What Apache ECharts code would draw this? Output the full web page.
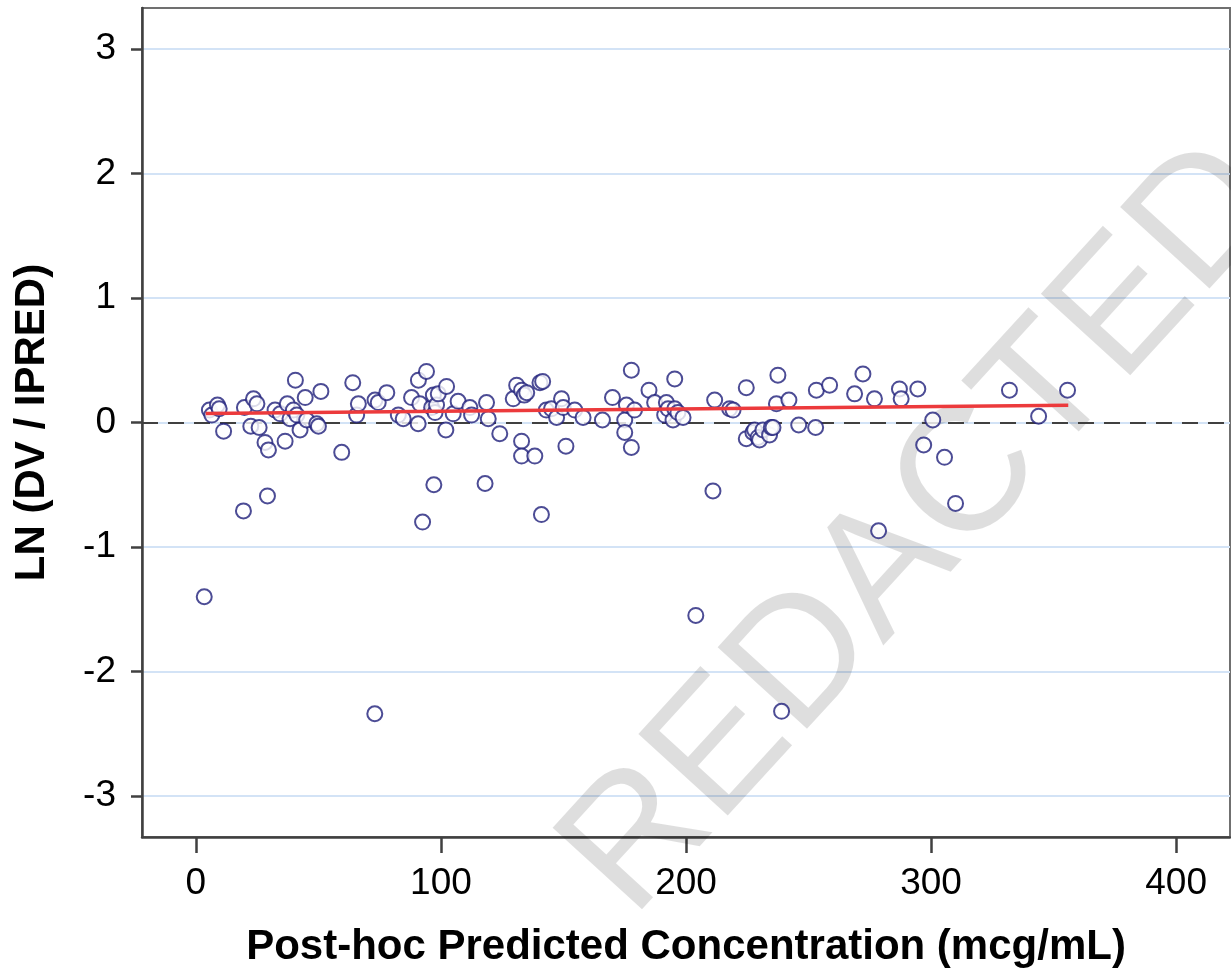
<!DOCTYPE html>
<html>
<head>
<meta charset="utf-8">
<script src="https://cdn.jsdelivr.net/npm/echarts@6/dist/echarts.min.js"></script>
<style>
html,body{margin:0;padding:0;background:#fff;}
#chart{width:1231px;height:976px;}
</style>
</head>
<body>
<div id="chart"></div>
<script>
// Observations: [predicted concentration, ln(DV/IPRED)]
const points = [
  [3.4,-1.40],[5.5,0.10],[6.5,0.06],[8.8,0.14],[9.5,0.11],[11.3,-0.07],[19.4,-0.71],[19.8,0.12],
  [22.4,-0.03],[23.5,0.19],[24.9,0.15],[25.8,-0.04],[28.2,-0.16],[29.2,-0.59],[29.6,-0.22],[32.3,0.10],
  [34.4,0.07],[36.4,-0.15],[37.3,0.15],[38.4,0.03],[39.8,0.10],[40.6,0.34],[41.2,0.06],[42.5,-0.06],
  [44.6,0.20],[45.2,0.02],[49.3,-0.01],[50.0,-0.03],[51.0,0.25],[59.5,-0.24],[64.0,0.32],[65.6,0.06],
  [66.3,0.15],[73.1,0.18],[74.4,0.16],[73.0,-2.34],[77.9,0.24],[82.6,0.06],[84.6,0.03],[88.0,0.20],
  [90.7,-0.01],[90.8,0.34],[91.4,0.15],[92.5,-0.80],[94.1,0.41],[96.2,0.12],[96.9,0.22],[97.1,-0.50],
  [97.6,0.08],[98.2,0.14],[98.9,0.23],[102.0,-0.06],[102.3,0.29],[105.0,0.07],[107.0,0.17],[111.8,0.12],
  [112.5,0.06],[118.0,-0.49],[118.6,0.16],[119.3,0.03],[124.0,-0.09],[129.5,0.19],[130.9,0.30],[132.9,0.26],
  [132.9,-0.15],[132.9,-0.27],[134.0,0.22],[135.0,0.24],[138.3,-0.27],[140.4,0.32],[141.5,0.33],[141.0,-0.74],
  [143.0,0.10],[145.1,0.11],[147.2,0.04],[149.2,0.19],[149.9,0.12],[151.0,-0.19],[154.6,0.10],[158.0,0.04],
  [165.9,0.02],[170.0,0.20],[175.0,0.02],[175.0,-0.08],[175.7,0.14],[177.7,0.42],[177.7,-0.20],[179.0,0.10],
  [184.9,0.26],[187.2,0.16],[191.3,0.06],[192.0,0.16],[192.7,0.11],[194.7,0.02],[195.4,0.35],[195.4,0.11],
  [196.7,0.08],[198.8,0.04],[204.0,-1.55],[211.0,-0.55],[211.7,0.18],[217.8,0.11],[219.2,0.10],[224.6,0.28],
  [224.6,-0.13],[227.3,-0.08],[228.0,-0.06],[229.4,-0.12],[230.0,-0.14],[231.4,-0.06],[234.1,-0.10],[234.8,-0.04],
  [235.5,-0.04],[236.9,0.15],[237.5,0.38],[239.0,-2.32],[242.0,0.18],[246.0,-0.02],[252.9,-0.04],[253.2,0.26],
  [258.6,0.30],[268.8,0.23],[272.2,0.39],[276.9,0.19],[278.6,-0.87],[287.1,0.27],[287.8,0.19],[294.6,0.27],
  [297.0,-0.18],[300.7,0.02],[305.5,-0.28],[310.0,-0.65],[332.0,0.26],[343.9,0.05],[355.7,0.26]
];
// Fitted trend line
const fitX = [4, 356];
const fitY = [0.072, 0.138];
// Axes
const xTicks = [0, 100, 200, 300, 400];
const yTicks = [-3, -2, -1, 0, 1, 2, 3];
const xRange = [-22, 422];
const yRange = [-3.33, 3.33];
const xTitle = 'Post-hoc Predicted Concentration (mcg/mL)';
const yTitle = 'LN (DV / IPRED)';
const watermark = 'REDACTED';

const chart = echarts.init(document.getElementById('chart'), null, {renderer: 'canvas'});
const font = 'Liberation Sans, Arial, sans-serif';
chart.setOption({
  animation: false,
  backgroundColor: '#fff',
  grid: {left: 142, top: 8, right: 1, bottom: 139, show: true, borderColor: '#707070', borderWidth: 2},
  graphic: {
    elements: [{
      type: 'text',
      z: 1,
      x: 923, y: 530,
      rotation: 0.83,
      style: {
        text: watermark,
        font: '176px ' + font,
        fill: 'rgba(0,0,0,0.13)',
        align: 'center',
        verticalAlign: 'middle'
      }
    }]
  },
  xAxis: {
    type: 'value',
    min: xRange[0], max: xRange[1],
    name: xTitle,
    nameLocation: 'middle',
    nameGap: 89,
    nameTextStyle: {fontFamily: font, fontWeight: 'bold', fontSize: 42, color: '#000'},
    axisLine: {show: true, onZero: false, lineStyle: {color: '#404040', width: 2.5}},
    axisTick: {show: true, length: 16, customValues: xTicks, lineStyle: {color: '#404040', width: 2.5}},
    axisLabel: {customValues: xTicks, margin: 28, fontFamily: font, fontSize: 37, color: '#000'},
    splitLine: {show: false}
  },
  yAxis: {
    type: 'value',
    min: yRange[0], max: yRange[1],
    name: yTitle,
    nameLocation: 'middle',
    nameGap: 89,
    nameTextStyle: {fontFamily: font, fontWeight: 'bold', fontSize: 42, color: '#000'},
    axisLine: {show: true, onZero: false, lineStyle: {color: '#404040', width: 2.5}},
    axisTick: {show: true, length: 11, customValues: yTicks, lineStyle: {color: '#404040', width: 2.5}},
    axisLabel: {customValues: yTicks, margin: 26, fontFamily: font, fontSize: 37, color: '#000'},
    splitLine: {show: true, lineStyle: {color: '#d3e3f6', width: 2}}
  },
  series: [
    {
      type: 'scatter',
      data: points,
      symbol: 'emptyCircle',
      symbolSize: 15,
      z: 3,
      itemStyle: {color: '#1f1f7a', borderColor: '#1f1f7a', borderWidth: 2.3},
      markLine: {
        silent: true,
        symbol: 'none',
        label: {show: false},
        lineStyle: {color: '#404040', width: 2, type: [16, 10]},
        data: [{yAxis: 0}],
        z: 2
      }
    },
    {
      type: 'line',
      data: fitX.map((x, i) => [x, fitY[i]]),
      symbol: 'none',
      z: 5,
      lineStyle: {color: '#ec3a3c', width: 3.5}
    }
  ]
});
</script>
</body>
</html>
